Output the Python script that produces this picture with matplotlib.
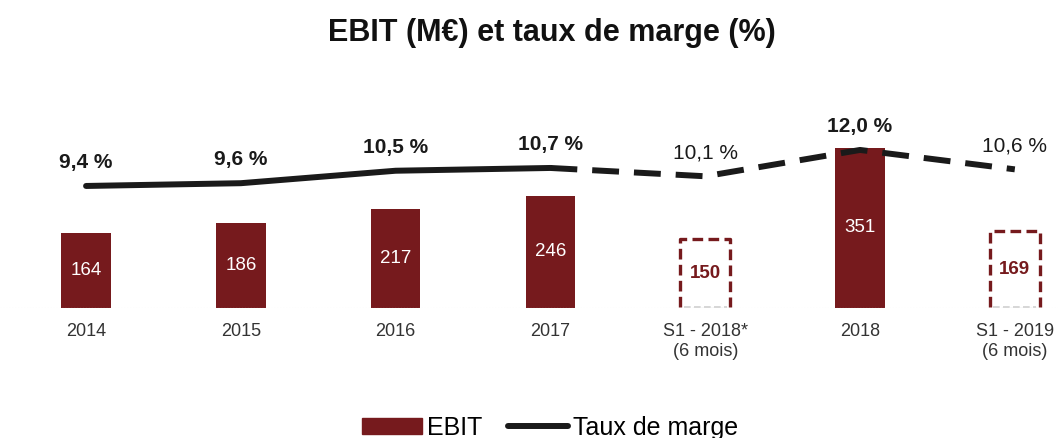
import matplotlib.pyplot as plt
from matplotlib.patches import Rectangle
from matplotlib.lines import Line2D

plt.rcParams['font.family'] = ['Liberation Sans', 'DejaVu Sans']

categories = ["2014", "2015", "2016", "2017", "S1 - 2018*\n(6 mois)", "2018", "S1 - 2019\n(6 mois)"]
ebit = [164, 186, 217, 246, 150, 351, 169]
marge = [9.4, 9.6, 10.5, 10.7, 10.1, 12.0, 10.6]
marge_labels = ["9,4 %", "9,6 %", "10,5 %", "10,7 %", "10,1 %", "12,0 %", "10,6 %"]
half_year = [False, False, False, False, True, False, True]

red = "#761a1d"

fig = plt.figure(figsize=(10.58, 4.38), dpi=100)
ax = fig.add_axes([0, 0.2968, 1, 0.475])
ax2 = ax.twinx()

x = list(range(len(categories)))
width = 0.32

# bars: full years filled, half years as dashed boxes (open at the bottom)
for i, v in enumerate(ebit):
    if half_year[i]:
        l, r = i - width / 2, i + width / 2
        ax.plot([l, l, r, r], [2, v, v, 2], color=red, lw=2.4,
                ls=(0, (3.2, 1.6)), dash_joinstyle='round')
        ax.plot([l + 0.02, r - 0.02], [3, 3], color='#cfcfcf', lw=1.2, ls=(0, (4, 2)))
        ax.plot([l + 0.02, r - 0.02], [-1, -1], color='#dcdcdc', lw=1.0, ls=(0, (4, 2)))
        ax.text(i, v / 2, str(v), ha='center', va='center', color=red,
                fontsize=13.5, fontweight='bold')
    else:
        ax.bar(i, v, width=width, color=red)
        ax.text(i, v / 2, str(v), ha='center', va='center', color='white',
                fontsize=13.5)

ax.axhline(0, color='#e4e4e4', lw=0.8, ls=':')
ax.set_xlim(-0.556, 6.279)
ax.set_ylim(0, 455)
ax.set_xticks(x)
ax.set_xticklabels(categories, fontsize=13, color='#333333')
ax.tick_params(axis='x', length=0, pad=11)
ax.set_yticks([])

# margin line: solid for full years, dashed afterwards
ax2.plot(x[:4], marge[:4], color='#1a1a1a', lw=4.3, solid_capstyle='round')
ax2.plot(x[3:], marge[3:], color='#1a1a1a', lw=4.3, ls=(0, (4.5, 2.5)),
         dash_capstyle='butt')
ax2.set_ylim(0.59, 15.61)
ax2.set_yticks([])
for i, (v, lab) in enumerate(zip(marge, marge_labels)):
    ax2.annotate(lab, (i, v), xytext=(0, 10), textcoords='offset points',
                 ha='center', va='bottom', fontsize=15, color='#1a1a1a',
                 fontweight='normal' if half_year[i] else 'bold')

for a in (ax, ax2):
    for s in a.spines.values():
        s.set_visible(False)

fig.text(0.522, 0.925, "EBIT (M€) et taux de marge (%)", ha='center', va='center',
         fontsize=22, fontweight='bold', color='#111111')

handles = [Rectangle((0, 0), 1, 1, color=red),
           Line2D([0], [0], color='#1a1a1a', lw=4.3, solid_capstyle='round')]
fig.legend(handles, ["EBIT", "Taux de marge"], loc='lower center',
           bbox_to_anchor=(0.52, -0.055), ncol=2, frameon=False, fontsize=18,
           handlelength=2.4, handleheight=0.6, handletextpad=0.2, columnspacing=1.0)

fig.savefig("out.png", dpi=100)
